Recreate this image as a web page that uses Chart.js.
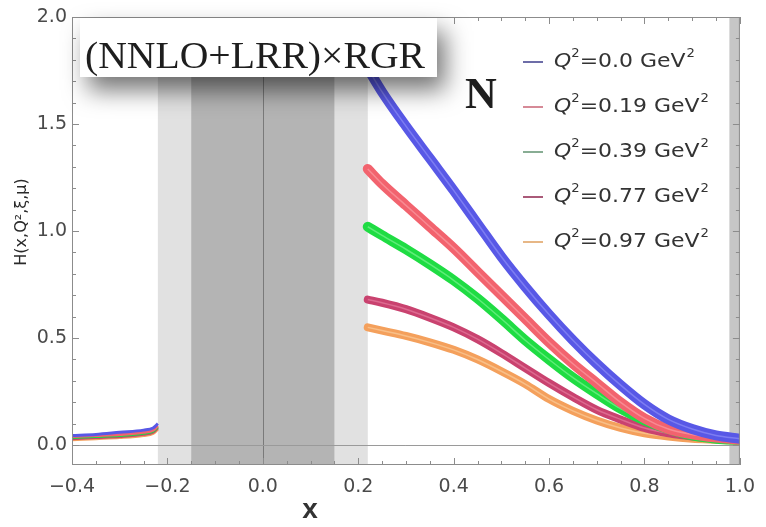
<!DOCTYPE html>
<html>
<head>
<meta charset="utf-8">
<script src="https://cdn.jsdelivr.net/npm/chart.js@4/dist/chart.umd.min.js"></script>
<style>
  html, body { margin: 0; padding: 0; background: #fff; }
  #wrap { width: 766px; height: 527px; }
</style>
</head>
<body>
<div id="wrap"><canvas id="gpd" width="766" height="527"></canvas></div>
<script>
// Q^2 (GeV^2) of each curve
const q2Labels = ['0.0', '0.19', '0.39', '0.77', '0.97']
const lineColors = ['#5858e6', '#f2636e', '#1fdc43', '#c9426f', '#f4a05c']
const stripeColors = ['#7d7df2', '#f88a92', '#5fec79', '#dd6a90', '#f8bf88']
const keyColors = ['#6d6da8', '#d68a97', '#88ad94', '#aa5a79', '#e7b786']

// x points, ERBL-excluded gap between the two branches
const xLeft = [-0.4, -0.35, -0.3, -0.25, -0.23, -0.22]
const xRight = [0.22, 0.25, 0.3, 0.35, 0.4, 0.45, 0.5, 0.55, 0.6, 0.65, 0.7, 0.75, 0.8, 0.85, 0.9, 0.95, 1.0]

// H(x,Q^2,xi,mu), antiquark side
const hLeftQ00 = [0.045, 0.05, 0.06, 0.07, 0.08, 0.10]
const hLeftQ19 = [0.04, 0.045, 0.05, 0.06, 0.07, 0.09]
const hLeftQ39 = [0.035, 0.04, 0.045, 0.055, 0.065, 0.085]
const hLeftQ77 = [0.03, 0.035, 0.04, 0.05, 0.06, 0.08]
const hLeftQ97 = [0.025, 0.03, 0.035, 0.045, 0.055, 0.075]

// H(x,Q^2,xi,mu), quark side
const hRightQ00 = [1.76, 1.65, 1.49, 1.34, 1.19, 1.035, 0.88, 0.74, 0.61, 0.49, 0.38, 0.28, 0.19, 0.12, 0.075, 0.045, 0.03]
const hRightQ19 = [1.29, 1.22, 1.12, 1.02, 0.92, 0.81, 0.70, 0.59, 0.48, 0.38, 0.29, 0.20, 0.125, 0.075, 0.05, 0.035, 0.025]
const hRightQ39 = [1.02, 0.98, 0.915, 0.845, 0.77, 0.685, 0.59, 0.49, 0.40, 0.315, 0.24, 0.17, 0.115, 0.075, 0.045, 0.03, 0.025]
const hRightQ77 = [0.68, 0.665, 0.635, 0.595, 0.55, 0.495, 0.43, 0.36, 0.29, 0.225, 0.165, 0.12, 0.08, 0.055, 0.04, 0.03, 0.025]
const hRightQ97 = [0.55, 0.535, 0.51, 0.48, 0.445, 0.40, 0.345, 0.285, 0.215, 0.16, 0.115, 0.08, 0.055, 0.04, 0.03, 0.025, 0.02]

const xTicks = [-0.4, -0.2, 0, 0.2, 0.4, 0.6, 0.8, 1.0]
const yTicks = [0, 0.5, 1.0, 1.5, 2.0]

const hLeft = [hLeftQ00, hLeftQ19, hLeftQ39, hLeftQ77, hLeftQ97]
const hRight = [hRightQ00, hRightQ19, hRightQ39, hRightQ77, hRightQ97]
const bandWidths = [10, 10, 10, 8, 8]

const toPoints = (xs, ys) => xs.map((x, i) => ({ x: x, y: ys[i] }))

// each curve: a wide band with a lighter stripe through it
const datasets = []
q2Labels.forEach((q, i) => {
  datasets.push({
    label: 'Q2=' + q + ' stripe',
    data: toPoints(xRight, hRight[i]),
    borderColor: stripeColors[i],
    borderWidth: 1.5,
    cubicInterpolationMode: 'monotone',
    pointRadius: 0,
    order: 2 * i
  })
  datasets.push({
    label: 'Q2=' + q,
    data: toPoints(xRight, hRight[i]),
    borderColor: lineColors[i],
    borderWidth: bandWidths[i],
    cubicInterpolationMode: 'monotone',
    borderCapStyle: 'round',
    pointRadius: 0,
    order: 2 * i + 1
  })
  datasets.push({
    label: 'Q2=' + q + ' left',
    data: toPoints(xLeft, hLeft[i]),
    borderColor: lineColors[i],
    borderWidth: 3,
    cubicInterpolationMode: 'monotone',
    pointRadius: 0,
    order: 20 + i
  })
})

const fmt = v => (v < 0 ? '\u2212' : '') + Math.abs(v).toFixed(1)

// shaded excluded regions and the x=0 / y=0 lines
const regions = {
  id: 'regions',
  beforeDatasetsDraw(chart) {
    const { ctx, chartArea: a, scales: { x, y } } = chart
    ctx.save()
    const band = (x0, x1, color) => {
      ctx.fillStyle = color
      ctx.fillRect(x.getPixelForValue(x0), a.top, x.getPixelForValue(x1) - x.getPixelForValue(x0), a.bottom - a.top)
    }
    band(-0.22, 0.22, '#e1e1e1')
    band(-0.15, 0.15, '#b4b4b4')
    band(0.978, 1.0, '#c6c6c6')
    ctx.strokeStyle = '#7a7a7a'
    ctx.lineWidth = 1
    ctx.beginPath()
    const x0 = Math.round(x.getPixelForValue(0)) + 0.5
    ctx.moveTo(x0, a.top)
    ctx.lineTo(x0, a.bottom)
    ctx.stroke()
    ctx.strokeStyle = '#9a9a9a'
    ctx.beginPath()
    const y0 = Math.round(y.getPixelForValue(0)) + 0.5
    ctx.moveTo(a.left, y0)
    ctx.lineTo(a.right, y0)
    ctx.stroke()
    ctx.restore()
  }
}

// frame with inward ticks
const frame = {
  id: 'frame',
  afterDatasetsDraw(chart) {
    const { ctx, chartArea: a, scales: { x, y } } = chart
    ctx.save()
    ctx.strokeStyle = '#8c8c8c'
    ctx.lineWidth = 1
    ctx.strokeRect(a.left + 0.5, a.top + 0.5, a.right - a.left - 1, a.bottom - a.top - 1)
    ctx.beginPath()
    for (let k = -8; k <= 20; k++) {
      const px = Math.round(x.getPixelForValue(k * 0.05)) + 0.5
      const len = k % 4 === 0 ? 7 : 4
      ctx.moveTo(px, a.bottom); ctx.lineTo(px, a.bottom - len)
      ctx.moveTo(px, a.top); ctx.lineTo(px, a.top + len)
    }
    for (let k = 0; k <= 20; k++) {
      const py = Math.round(y.getPixelForValue(k * 0.1)) + 0.5
      const len = k % 5 === 0 ? 7 : 4
      ctx.moveTo(a.left, py); ctx.lineTo(a.left + len, py)
      ctx.moveTo(a.right, py); ctx.lineTo(a.right - len, py)
    }
    ctx.stroke()
    ctx.restore()
  }
}

// label box, nucleon tag, legend and axis titles
const labels = {
  id: 'labels',
  afterDraw(chart) {
    const { ctx } = chart
    ctx.save()

    ctx.save()
    ctx.shadowColor = 'rgba(0,0,0,0.55)'
    ctx.shadowBlur = 24
    ctx.shadowOffsetX = 8
    ctx.shadowOffsetY = 13
    ctx.fillStyle = '#ffffff'
    ctx.fillRect(80, 18, 357, 59)
    ctx.restore()
    ctx.fillStyle = '#ffffff'
    ctx.fillRect(80, 18, 357, 59)

    const title = '(NNLO+LRR)\u00d7RGR'
    ctx.font = '37px "Liberation Serif"'
    const w = ctx.measureText(title).width
    ctx.fillStyle = '#1e1e1e'
    ctx.textBaseline = 'alphabetic'
    ctx.save()
    ctx.translate(85, 68)
    ctx.scale(340 / w, 1)
    ctx.fillText(title, 0, 0)
    ctx.restore()

    ctx.font = 'bold 44px "Liberation Serif"'
    ctx.fillText('N', 465, 108)

    // legend rows, stretched to a common width
    const sup = '12px "DejaVu Sans"'
    const main = '20px "DejaVu Sans"'
    const rowWidth = q => {
      ctx.font = 'oblique ' + main
      let wq = ctx.measureText('Q').width
      ctx.font = sup
      wq += 2 * ctx.measureText('2').width + 1
      ctx.font = main
      return wq + ctx.measureText('=' + q + ' GeV').width
    }
    const sx = 141 / rowWidth(q2Labels[0])
    q2Labels.forEach((q, i) => {
      const yc = 62 + i * 45
      ctx.strokeStyle = keyColors[i]
      ctx.lineWidth = 2
      ctx.beginPath()
      ctx.moveTo(523, yc)
      ctx.lineTo(543, yc)
      ctx.stroke()
      ctx.save()
      ctx.translate(554, yc)
      ctx.scale(sx, 1)
      ctx.fillStyle = '#333'
      ctx.textBaseline = 'middle'
      let px = 0
      ctx.font = 'oblique ' + main
      ctx.fillText('Q', px, 0)
      px += ctx.measureText('Q').width
      ctx.font = sup
      ctx.fillText('2', px, -8)
      px += ctx.measureText('2').width
      ctx.font = main
      const body = '=' + q + ' GeV'
      ctx.fillText(body, px, 0)
      px += ctx.measureText(body).width
      ctx.font = sup
      ctx.fillText('2', px + 1, -8)
      ctx.restore()
    })

    // y title
    ctx.save()
    ctx.translate(22, 222)
    ctx.rotate(-Math.PI / 2)
    ctx.fillStyle = '#2a2a2a'
    ctx.textAlign = 'center'
    ctx.textBaseline = 'middle'
    ctx.font = '16px "DejaVu Sans"'
    ctx.fillText('H(x,Q\u00b2,\u03be,\u03bc)', 0, 0)
    ctx.restore()

    // x title
    ctx.fillStyle = '#333'
    ctx.textAlign = 'center'
    ctx.textBaseline = 'middle'
    ctx.font = 'bold 28px "Liberation Sans"'
    ctx.fillText('x', 310, 510)

    ctx.restore()
  }
}

new Chart(document.getElementById('gpd'), {
  type: 'line',
  data: { datasets: datasets },
  options: {
    responsive: false,
    animation: false,
    layout: { padding: { top: 17, right: 17, left: 0, bottom: 0 } },
    plugins: { legend: { display: false }, tooltip: { enabled: false } },
    scales: {
      x: {
        type: 'linear',
        min: -0.4,
        max: 1.0,
        grid: { display: false, drawTicks: false },
        border: { display: false },
        afterBuildTicks: s => { s.ticks = xTicks.map(v => ({ value: v })) },
        afterFit: s => { s.height = 62 },
        ticks: {
          padding: 11,
          color: '#4a4a4a',
          font: { family: 'DejaVu Sans', size: 19 },
          callback: v => fmt(v)
        }
      },
      y: {
        min: -0.093,
        max: 2.0,
        grid: { display: false, drawTicks: false },
        border: { display: false },
        afterBuildTicks: s => { s.ticks = yTicks.map(v => ({ value: v })) },
        afterFit: s => { s.width = 72 },
        ticks: {
          padding: 5,
          color: '#4a4a4a',
          font: { family: 'DejaVu Sans', size: 19 },
          callback: v => fmt(v)
        }
      }
    }
  },
  plugins: [regions, frame, labels]
})
</script>
</body>
</html>
